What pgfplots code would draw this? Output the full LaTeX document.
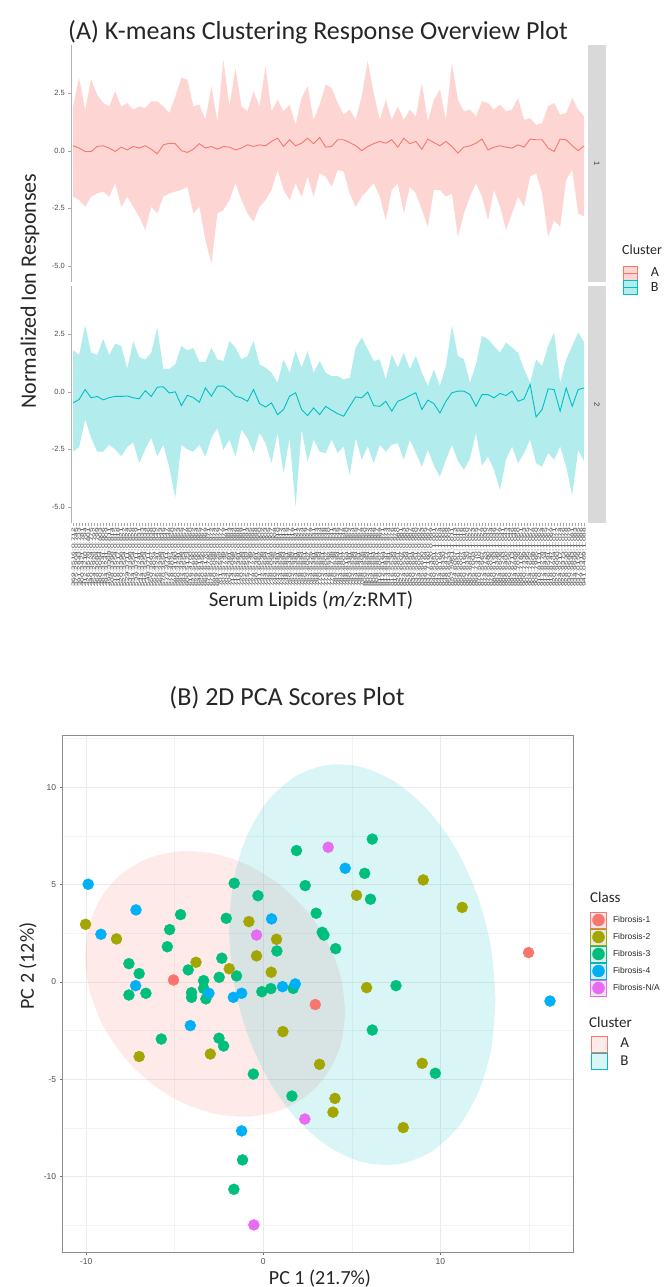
\documentclass[border=0pt]{standalone}
\usepackage{fontspec}
\setmainfont{Carlito}
\newfontfamily\arialf{Liberation Sans}
\usepackage{pgfplots}
\pgfplotsset{compat=1.18}
\usepackage{pgfplotstable}

\definecolor{cA}{HTML}{F8766D}
\definecolor{cB}{HTML}{00BFC4}
\definecolor{fa}{HTML}{F8766D}
\definecolor{fb}{HTML}{A3A500}
\definecolor{fc}{HTML}{00BF7D}
\definecolor{fd}{HTML}{00B0F6}
\definecolor{fe}{HTML}{E76BF3}
\definecolor{tickc}{HTML}{4D4D4D}
\definecolor{stripc}{HTML}{D9D9D9}
\definecolor{gridmaj}{HTML}{EBEBEB}
\definecolor{gridmin}{HTML}{F3F3F3}
\definecolor{keybg}{HTML}{E8E8E8}

% facet 1 (cluster A): x lo mean hi
\pgfplotstableread{
x lo mean hi
1 -1.99 0.22 1.93
3 -2.14 0.12 3.17
5 -2.43 -0.03 1.79
7 -1.99 -0.03 3.10
9 -1.85 0.19 2.44
11 -1.77 0.22 2.08
13 -1.99 0.12 1.93
15 -1.41 -0.03 2.59
17 -2.43 0.16 1.93
19 -1.99 0.04 2.08
21 -2.43 0.19 1.79
23 -2.86 0.12 1.93
25 -3.44 0.22 1.86
27 -2.43 0.07 2.15
29 -2.72 -0.13 2.15
31 -1.99 0.26 1.93
33 -1.85 0.33 1.64
35 -1.77 0.31 2.37
37 -1.70 0.01 3.17
39 -1.56 -0.07 3.10
41 -2.72 0.07 1.93
43 -2.43 0.31 2.01
45 -3.88 0.12 1.35
47 -4.90 0.19 2.81
49 -2.72 0.07 1.28
51 -2.57 0.19 3.97
53 -2.14 0.16 1.93
55 -1.41 0.04 3.60
57 -2.14 0.12 1.93
59 -2.72 0.26 1.72
61 -3.08 0.19 2.59
63 -2.43 0.26 1.93
65 -2.14 0.22 3.68
67 -1.70 0.41 1.72
69 -0.83 0.55 2.22
71 -1.70 0.19 1.72
73 -2.14 0.48 2.01
75 -1.41 0.22 1.13
77 -1.99 0.33 2.30
79 -1.12 0.55 2.81
81 -1.99 0.31 1.35
83 -0.97 0.58 2.01
85 -1.12 0.16 2.88
87 -1.56 0.19 2.73
89 -0.83 0.48 2.08
91 -0.90 0.48 1.57
93 -1.85 0.36 1.79
95 -2.43 0.22 1.35
97 -1.99 0.01 2.37
99 -1.70 0.19 3.90
101 -1.41 0.31 2.51
103 -1.99 0.41 1.35
105 -3.01 0.33 2.22
107 -1.70 0.48 1.35
109 -1.41 0.16 1.93
111 -2.72 0.55 1.35
113 -1.56 0.31 1.79
115 -1.85 0.41 1.50
117 -2.57 0.07 2.95
119 -3.30 0.51 1.28
121 -1.70 0.36 2.22
123 -1.70 0.22 2.66
125 -1.99 0.41 1.35
127 -1.85 0.19 3.82
129 -3.74 -0.10 2.22
131 -2.72 0.16 1.72
133 -1.99 0.22 1.79
135 -1.41 0.33 1.50
137 -1.99 0.51 2.15
139 -3.01 0.04 2.08
141 -1.70 0.16 1.79
143 -2.43 0.22 2.01
145 -3.44 0.16 1.72
147 -2.72 0.12 1.79
149 -1.99 0.26 2.30
151 -2.43 0.16 1.35
153 -1.12 0.51 1.42
155 -0.97 0.48 1.13
157 -1.85 0.48 1.21
159 -3.74 0.12 1.93
161 -3.01 -0.03 2.08
163 -3.30 0.51 1.57
165 -1.26 0.48 1.64
167 -0.83 0.22 2.30
169 -2.72 0.01 1.79
171 -2.86 0.22 1.50
}\tabA

% facet 2 (cluster B)
\pgfplotstableread{
x lo mean hi
1 -2.60 -0.48 1.80
3 -2.40 -0.33 1.60
5 -1.20 0.10 2.90
7 -2.00 -0.26 1.70
9 -2.60 -0.20 1.60
11 -2.60 -0.35 2.30
13 -2.30 -0.25 1.60
15 -2.50 -0.20 2.10
17 -2.80 -0.20 2.00
19 -2.40 -0.18 1.00
21 -2.20 -0.26 2.20
23 -3.10 -0.30 1.50
25 -2.50 0.05 1.40
27 -2.00 -0.20 1.70
29 -2.80 0.20 2.80
31 -2.30 0.22 1.00
33 -3.30 -0.05 1.00
35 -4.60 0.00 1.20
37 -2.30 -0.60 2.00
39 -2.50 -0.15 1.80
41 -2.60 -0.25 1.90
43 -2.30 -0.45 1.30
45 -2.81 0.17 1.30
47 -2.00 -0.19 1.92
49 -1.57 0.25 1.41
51 -2.52 0.25 1.34
53 -2.08 0.07 2.21
55 -2.81 -0.19 1.92
57 -1.64 -0.26 1.41
59 -2.01 -0.41 1.56
61 -2.66 0.10 2.21
63 -1.79 -0.51 1.19
65 -2.23 -0.66 1.05
67 -3.10 -0.48 0.83
69 -1.79 -0.99 0.39
71 -3.54 -0.77 1.41
73 -2.01 -0.19 0.83
75 -4.99 -0.04 1.78
77 -1.64 -0.77 1.05
79 -3.03 -1.03 1.78
81 -2.08 -0.70 0.83
83 -2.60 -0.99 1.34
85 -2.66 -0.63 0.83
87 -2.08 -0.80 0.68
89 -2.66 -0.95 0.68
91 -2.37 -1.06 0.54
93 -3.61 -0.63 0.61
95 -2.01 -0.22 1.92
97 -2.95 -0.26 2.36
99 -2.37 -0.01 1.85
101 -3.10 -0.60 1.34
103 -2.30 -0.63 1.41
105 -2.60 -0.41 0.54
107 -2.30 -0.84 1.63
109 -2.23 -0.41 1.05
111 -2.95 -0.31 1.70
113 -2.08 -0.16 0.98
115 -2.66 -0.04 1.56
117 -3.25 -0.77 0.83
119 -2.52 -0.36 0.25
121 -3.20 -0.51 0.98
123 -3.68 -0.92 0.25
125 -2.95 -0.41 1.12
127 -2.30 -0.04 2.87
129 -3.00 0.03 1.56
131 -3.39 0.03 1.41
133 -2.90 -0.12 0.39
135 -1.79 -0.63 1.19
137 -3.20 -0.12 2.43
139 -2.81 -0.12 2.29
141 -3.39 -0.26 1.99
143 -4.26 -0.07 1.70
145 -2.95 -0.16 2.14
147 -2.37 0.03 1.92
149 -3.10 -0.41 1.70
151 -2.66 -0.31 0.98
153 -2.08 0.32 0.39
155 -3.10 -1.09 1.41
157 -3.25 -0.77 1.12
159 -2.66 0.13 1.99
161 -2.95 0.10 2.58
163 -2.37 -0.84 0.39
165 -3.25 0.17 1.41
167 -4.48 -0.63 1.99
169 -2.52 0.10 2.58
171 -3.03 0.17 2.14
}\tabB

\begin{document}
\begin{tikzpicture}
\useasboundingbox (0pt,0pt) rectangle (665pt,1287pt);

% ---------------- Panel A ----------------
\node[font=\fontsize{26}{30}\selectfont, text=black!85] at (318pt,1255pt) {(A) K-means Clustering Response Overview Plot};
\node[font=\fontsize{22}{26}\selectfont, rotate=90, text=black!85] at (30pt,996pt) {Normalized Ion Responses};
\node[font=\fontsize{21}{25}\selectfont, text=black!85] at (311pt,686pt) {Serum Lipids (\textit{m/z}:RMT)};
\node[font=\fontsize{14}{16}\selectfont, text=black!85, anchor=west, inner sep=0pt] at (622pt,1037pt) {Cluster};

% strips
\fill[stripc] (588pt,1242pt) rectangle (606pt,1005pt);
\fill[stripc] (588pt,1001pt) rectangle (606pt,764pt);
\node[font=\arialf\fontsize{7.5}{8}\selectfont, text=black!80, rotate=-90] at (597pt,1123.5pt) {1};
\node[font=\arialf\fontsize{7.5}{8}\selectfont, text=black!80, rotate=-90] at (597pt,882.5pt) {2};

\begin{axis}[
  at={(71.3pt,1242pt)}, anchor=north west,
  scale only axis, width=514.7pt, height=237pt,
  xmin=0.4, xmax=171.6, ymin=-5.7, ymax=4.6,
  axis lines*=left,
  x axis line style={draw=none}, xtick=\empty,
  y axis line style={draw=black!30, line width=0.6pt},
  ytick={-5,-2.5,0,2.5}, yticklabels={-5.0,-2.5,0.0,2.5},
  yticklabel style={font=\arialf\fontsize{7.5}{8}\selectfont, text=tickc},
  tick style={draw=black!35, line width=0.5pt},
  tick align=outside, major tick length=3pt,
  legend cell align=left,
  legend style={at={(1.072,0.0675)}, anchor=north west, draw=none, fill=none,
    inner sep=0pt, outer sep=0pt, row sep=0pt, column sep=13pt,
    nodes={inner sep=0pt, text=black!85},
    font=\fontsize{14}{16}\selectfont},
]
\addplot[draw=none, stack plots=y, forget plot] table[x=x,y=lo]{\tabA};
\addplot[fill=cA, fill opacity=0.3, draw=none, stack plots=y, forget plot] table[x=x,y expr=\thisrow{hi}-\thisrow{lo}]{\tabA} \closedcycle;
\addplot[cA, line width=0.9pt, stack plots=false, forget plot] table[x=x,y=mean]{\tabA};
\addlegendimage{legend image code/.code={
  \fill[cA, fill opacity=0.3] (0pt,-7pt) rectangle (14pt,7pt);
  \draw[cA, line width=0.9pt] (0pt,0pt) -- (14pt,0pt);}}
\addlegendentry{A}
\addlegendimage{legend image code/.code={
  \fill[cB, fill opacity=0.3] (0pt,-7pt) rectangle (14pt,7pt);
  \draw[cB, line width=0.9pt] (0pt,0pt) -- (14pt,0pt);}}
\addlegendentry{B}
\end{axis}

\begin{axis}[
  at={(71.3pt,1001pt)}, anchor=north west,
  scale only axis, width=514.7pt, height=237pt,
  xmin=0.4, xmax=171.6, ymin=-5.7, ymax=4.6,
  axis lines*=left,
  x axis line style={draw=none},
  y axis line style={draw=black!30, line width=0.6pt},
  ytick={-5,-2.5,0,2.5}, yticklabels={-5.0,-2.5,0.0,2.5},
  yticklabel style={font=\arialf\fontsize{7.5}{8}\selectfont, text=tickc},
  tick style={draw=black!35, line width=0.5pt},
  tick align=outside, major tick length=3pt,
  xtick={1,2,...,171},
  xticklabel style={rotate=90, yscale=0.5, anchor=east, inner sep=1.5pt,
    font=\arialf\fontsize{8.5}{8.5}\selectfont, text=black!78},
  xticklabels={369.3516:0.712,375.2904:0.745,391.2843:0.733,400.3421:0.781,412.3210:0.794,426.3578:0.801,440.3524:0.775,454.2928:0.792,468.3084:0.799,480.3084:0.803,
482.3241:0.806,494.3241:0.809,496.3398:0.811,508.3398:0.814,510.3554:0.815,518.3217:0.818,520.3398:0.821,522.3554:0.822,524.3711:0.824,532.3398:0.826,
534.3554:0.828,536.3711:0.829,542.3241:0.831,544.3398:0.833,546.3554:0.834,548.3711:0.836,550.3867:0.838,552.4024:0.840,566.3241:0.842,568.3398:0.843,
570.3554:0.845,572.3711:0.847,576.3867:0.848,578.4024:0.850,580.4180:0.852,590.3241:0.853,592.3398:0.855,594.3554:0.857,600.5123:0.858,616.4700:0.860,
622.5690:0.862,629.5600:0.864,646.6190:0.865,650.6450:0.867,666.6170:0.869,675.6780:0.871,678.5068:0.872,690.5068:0.874,692.5225:0.876,701.5592:0.877,
703.5749:0.879,704.5225:0.881,706.5381:0.883,714.5068:0.884,716.5225:0.886,718.5381:0.888,720.5538:0.889,722.5694:0.891,725.5592:0.893,727.5749:0.895,
728.5225:0.896,730.5381:0.898,731.6062:0.900,732.5538:0.902,734.5694:0.903,736.5851:0.905,738.5068:0.907,740.5225:0.908,742.5381:0.910,744.5538:0.912,
746.5694:0.914,748.5851:0.915,750.5436:0.917,752.5592:0.919,754.5381:0.921,756.5538:0.922,758.5694:0.924,760.5851:0.926,762.6007:0.927,764.5225:0.929,
766.5381:0.931,768.5538:0.933,770.5694:0.934,772.5851:0.936,774.6007:0.938,776.5592:0.940,778.5749:0.941,780.5538:0.943,782.5694:0.945,784.5851:0.947,
786.6007:0.948,788.6164:0.950,790.5381:0.952,792.5538:0.954,794.5694:0.955,796.5851:0.957,798.5405:0.959,800.5538:0.960,802.5694:0.962,804.5851:0.964,
806.5694:0.966,808.5851:0.967,810.6007:0.969,812.6164:0.971,813.6847:0.973,814.5381:0.974,816.5538:0.976,818.5694:0.978,820.5851:0.980,822.6007:0.981,
824.5538:0.983,826.5694:0.985,828.5851:0.987,830.5694:0.988,832.5851:0.990,834.6007:0.992,835.6690:0.993,836.6164:0.995,837.7160:0.997,838.6320:0.999,
840.5851:1.001,842.6007:1.002,844.6164:1.004,846.6320:1.006,848.6477:1.008,850.6633:1.009,852.5851:1.011,854.6007:1.013,856.5851:1.015,858.6007:1.016,
860.6164:1.018,862.6320:1.020,863.6847:1.022,865.7003:1.023,868.7370:1.025,870.5410:1.027,872.5567:1.029,874.5723:1.030,876.5880:1.032,878.6036:1.034,
880.6193:1.036,882.6349:1.037,884.6506:1.039,886.6243:1.041,888.6400:1.043,890.6556:1.044,892.6713:1.046,894.6869:1.048,896.7026:1.050,898.7182:1.051,
900.7339:1.053,902.7495:1.055,904.7652:1.057,906.7808:1.058,908.7965:1.060,910.8121:1.062,912.8278:1.064,914.8434:1.065,916.8591:1.067,918.8747:1.069,
920.8904:1.071,922.9060:1.072,924.9217:1.074,926.9373:1.076,928.9530:1.078,930.9686:1.079,932.9843:1.081,934.9999:1.083,937.0156:1.085,939.0312:1.086,941.0469:1.088},
]
\addplot[draw=none, stack plots=y, forget plot] table[x=x,y=lo]{\tabB};
\addplot[fill=cB, fill opacity=0.3, draw=none, stack plots=y, forget plot] table[x=x,y expr=\thisrow{hi}-\thisrow{lo}]{\tabB} \closedcycle;
\addplot[cB, line width=0.9pt, stack plots=false, forget plot] table[x=x,y=mean]{\tabB};
\end{axis}

% ---------------- Panel B ----------------
\node[font=\fontsize{26}{30}\selectfont, text=black!85] at (287pt,589pt) {(B) 2D PCA Scores Plot};
\node[font=\fontsize{20}{24}\selectfont, rotate=90, text=black!85] at (28pt,321pt) {PC 2 (12\%)};
\node[font=\fontsize{20}{24}\selectfont, text=black!85] at (320pt,8pt) {PC 1 (21.7\%)};
\node[font=\fontsize{15}{17}\selectfont, text=black!85, anchor=west, inner sep=0pt] at (590pt,390pt) {Class};
\node[font=\fontsize{15}{17}\selectfont, text=black!85, anchor=west, inner sep=0pt] at (589pt,265pt) {Cluster};

\begin{axis}[
  at={(62.7pt,551.5pt)}, anchor=north west,
  scale only axis, width=510.3pt, height=516.5pt,
  xmin=-11.33, xmax=17.5, ymin=-13.87, ymax=12.66,
  xtick={-10,0,10}, xticklabels={-10,0,10},
  ytick={-10,-5,0,5,10}, yticklabels={-10,-5,0,5,10},
  minor xtick={-5,5,15}, minor ytick={-12.5,-7.5,-2.5,2.5,7.5,12.5},
  grid=both,
  major grid style={draw=gridmaj, line width=0.8pt},
  minor grid style={draw=gridmin, line width=0.5pt},
  minor tick length=0pt, major tick length=3pt,
  tick align=outside, tick pos=left,
  tick style={draw=black!55, line width=0.5pt},
  axis line style={draw=black!45, line width=0.9pt},
  ticklabel style={font=\arialf\fontsize{8.5}{9}\selectfont, text=tickc},
  legend cell align=left,
  legend style={at={(1.0333,0.6592)}, anchor=north west, draw=none, fill=none,
    inner sep=0pt, outer sep=0pt, row sep=0pt, column sep=6pt,
    nodes={inner sep=0pt, text=black!85},
    font=\arialf\fontsize{8.5}{10}\selectfont},
]
% Fibrosis-3
\addplot[only marks, mark=*, mark size=5.5pt, color=fc, forget plot] table {
x y
1.88 6.75
6.16 7.34
5.73 5.58
2.37 4.95
6.06 4.25
-1.64 5.07
-0.30 4.43
2.99 3.53
3.33 2.55
3.43 2.41
4.09 1.71
0.77 1.59
-2.09 3.27
-4.67 3.46
-5.29 2.69
-5.42 1.81
-7.59 0.94
-7.01 0.43
-7.59 -0.67
-6.63 -0.58
-4.24 0.62
-3.37 0.07
-3.37 -0.33
-4.05 -0.55
-4.05 -0.79
-3.24 -0.87
-2.49 0.24
-2.34 1.22
-1.51 0.31
-0.08 -0.50
0.43 -0.34
1.69 -0.33
7.50 -0.19
6.16 -2.47
-5.76 -2.93
-2.50 -2.89
-2.24 -3.29
-0.56 -4.73
1.62 -5.86
9.72 -4.69
-1.17 -9.14
-1.66 -10.65
};
% Fibrosis-2
\addplot[only marks, mark=*, mark size=5.5pt, color=fb, forget plot] table {
x y
-10.04 2.96
-8.29 2.21
-3.80 1.01
-1.92 0.68
-0.81 3.10
0.75 2.19
-0.38 1.34
0.45 0.50
-7.01 -3.83
-2.99 -3.70
1.11 -2.55
3.18 -4.23
4.05 -5.98
3.94 -6.69
5.27 4.45
9.04 5.24
11.24 3.83
5.84 -0.29
8.98 -4.18
7.91 -7.48
};
% Fibrosis-4
\addplot[only marks, mark=*, mark size=5.5pt, color=fd, forget plot] table {
x y
-9.89 5.02
-7.19 3.70
-9.17 2.45
0.47 3.24
4.63 5.84
-7.21 -0.19
-3.07 -0.58
-1.69 -0.79
-1.22 -0.58
1.09 -0.24
1.81 -0.10
-4.12 -2.24
-1.22 -7.65
16.20 -0.98
};
% Fibrosis-1
\addplot[only marks, mark=*, mark size=5.5pt, color=fa, forget plot] table {
x y
-5.07 0.10
2.94 -1.16
14.99 1.51
};
% Fibrosis-N/A
\addplot[only marks, mark=*, mark size=5.5pt, color=fe, forget plot] table {
x y
3.67 6.92
-0.38 2.41
2.35 -7.04
-0.53 -12.48
};
% cluster ellipses (boundary)
\addplot[smooth, draw=none, fill=cA, fill opacity=0.15, forget plot] coordinates {
(4.635,-1.518) (4.384,-3.196) (3.651,-4.665) (2.484,-5.821) (0.963,-6.589) (-0.809,-6.914)
(-2.710,-6.774) (-4.611,-6.180) (-6.383,-5.171) (-7.904,-3.817) (-9.071,-2.209) (-9.804,-0.458)
(-10.055,1.318) (-9.804,2.996) (-9.071,4.465) (-7.904,5.621) (-6.383,6.389) (-4.611,6.714)
(-2.710,6.574) (-0.809,5.980) (0.963,4.971) (2.484,3.617) (3.651,2.009) (4.384,0.258) (4.635,-1.518)};
\addplot[smooth, draw=none, fill=cB, fill opacity=0.15, forget plot] coordinates {
(13.124,-0.909) (12.868,-3.472) (12.116,-5.738) (10.920,-7.551) (9.362,-8.790) (7.547,-9.369)
(5.600,-9.249) (3.653,-8.437) (1.838,-6.990) (0.280,-5.007) (-0.916,-2.622) (-1.668,0.004)
(-1.924,2.689) (-1.668,5.252) (-0.916,7.518) (0.280,9.331) (1.838,10.570) (3.653,11.149)
(5.600,11.029) (7.547,10.217) (9.362,8.770) (10.920,6.787) (12.116,4.402) (12.868,1.776) (13.124,-0.909)};
\addlegendimage{legend image code/.code={
  \draw[fa, line width=0.8pt, fill=keybg] (0.4pt,-8.1pt) rectangle (16.6pt,8.1pt);
  \fill[fa] (8.5pt,0pt) circle (6pt);}}
\addlegendentry{Fibrosis-1}
\addlegendimage{legend image code/.code={
  \draw[fb, line width=0.8pt, fill=keybg] (0.4pt,-8.1pt) rectangle (16.6pt,8.1pt);
  \fill[fb] (8.5pt,0pt) circle (6pt);}}
\addlegendentry{Fibrosis-2}
\addlegendimage{legend image code/.code={
  \draw[fc, line width=0.8pt, fill=keybg] (0.4pt,-8.1pt) rectangle (16.6pt,8.1pt);
  \fill[fc] (8.5pt,0pt) circle (6pt);}}
\addlegendentry{Fibrosis-3}
\addlegendimage{legend image code/.code={
  \draw[fd, line width=0.8pt, fill=keybg] (0.4pt,-8.1pt) rectangle (16.6pt,8.1pt);
  \fill[fd] (8.5pt,0pt) circle (6pt);}}
\addlegendentry{Fibrosis-4}
\addlegendimage{legend image code/.code={
  \draw[fe, line width=0.8pt, fill=keybg] (0.4pt,-8.1pt) rectangle (16.6pt,8.1pt);
  \fill[fe] (8.5pt,0pt) circle (6pt);}}
\addlegendentry{Fibrosis-N/A}
\end{axis}

% second legend (Cluster) for panel B
\begin{axis}[
  at={(62.7pt,551.5pt)}, anchor=north west,
  scale only axis, width=510.3pt, height=516.5pt,
  xmin=-11.33, xmax=17.5, ymin=-13.87, ymax=12.66,
  hide axis,
  legend cell align=left,
  legend style={at={(1.035,0.4188)}, anchor=north west, draw=none, fill=none,
    inner sep=0pt, outer sep=0pt, row sep=1pt, column sep=13pt,
    nodes={inner sep=0pt, text=black!85},
    font=\fontsize{15}{17}\selectfont},
]
\addplot[draw=none, forget plot] coordinates {(0,0) (1,1)};
\addlegendimage{legend image code/.code={
  \fill[cA, fill opacity=0.15] (0pt,-8pt) rectangle (16pt,8pt);}}
\addlegendentry{A}
\addlegendimage{legend image code/.code={
  \fill[cB, fill opacity=0.15] (0pt,-8pt) rectangle (16pt,8pt);}}
\addlegendentry{B}
\end{axis}
\end{tikzpicture}
\end{document}
